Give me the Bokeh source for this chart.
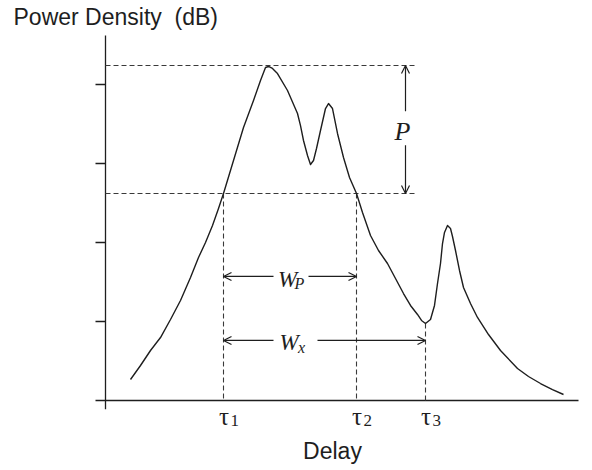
from bokeh.plotting import figure
from bokeh.models import Range1d, Arrow, OpenHead
from bokeh.core.properties import value
from bokeh.embed import file_html
from bokeh.resources import INLINE

# ---- data (delay in arbitrary units, power density in dB) ----
delay = [2.5, 3.5, 4.5, 5.5, 6.5, 7.5, 8.5, 9.3, 10.0, 10.7, 11.3, 11.8, 12.8, 13.8,
         14.8, 15.5, 16.0, 16.3, 16.7, 17.2, 18.2, 19.2, 19.5, 19.8, 20.2, 20.5,
         20.8, 21.1, 21.5, 22.0, 22.3, 22.7, 23.2, 23.8, 24.4, 25.1, 25.7, 26.5,
         27.3, 28.2, 29.0, 29.8, 30.5, 31.2, 31.6, 32.0, 32.5, 32.9, 33.2, 33.5,
         33.7, 33.9, 34.2, 34.5, 34.7, 35.0, 35.4, 35.8, 36.5, 37.2, 38.3, 39.5,
         41.2, 42.3, 43.5, 44.7, 45.8]
power_db = [2.66, 4.43, 6.33, 7.97, 10.25, 12.66, 15.57, 18.1, 20.0, 22.15, 24.3,
            26.2, 30.38, 34.56, 37.97, 40.51, 42.15, 42.28, 42.03, 41.39, 39.24,
            36.33, 34.8, 32.91, 31.01, 29.87, 30.38, 31.9, 34.18, 36.96, 37.59,
            36.96, 33.8, 30.76, 28.23, 26.2, 23.8, 20.89, 18.99, 17.34, 15.44,
            13.54, 12.03, 10.89, 10.13, 9.75, 10.25, 12.03, 14.81, 17.34, 19.87,
            21.27, 22.15, 21.77, 20.76, 18.99, 16.46, 14.3, 12.28, 10.51, 8.35,
            6.33, 4.05, 3.04, 2.15, 1.39, 0.76]
y_ticks = [10, 20, 30, 40]
peak_db = 42.4
threshold_db = 26.2
taus = [11.8, 25.1, 32.0]
tau_sub = ["1", "2", "3"]
tau_level = [threshold_db, threshold_db, 9.75]

x_min, x_max = 0, 47.3
y_min, y_max = 0, 46.2

INK = "#1e1e1e"
DASH = "#3a3a3a"
TS = 1.08  # vertical correction for text placement

p = figure(width=588, height=466, x_range=Range1d(-10.5, 48.3),
           y_range=Range1d(-8.354, 50.633), output_backend="svg",
           toolbar_location=None, x_axis_type=None, y_axis_type=None,
           min_border=0, min_border_left=0, min_border_right=0,
           min_border_top=0, min_border_bottom=0)
p.grid.visible = False
p.outline_line_color = None
p.background_fill_color = "white"
p.border_fill_color = "white"

# axes
p.segment(x0=[x_min], y0=[y_min - 1.1], x1=[x_min], y1=[y_max],
          line_color=INK, line_width=1.3)
p.segment(x0=[x_min - 1.0], y0=[y_min], x1=[x_max], y1=[y_min],
          line_color=INK, line_width=1.3)
p.segment(x0=[x_min - 1.0] * len(y_ticks), y0=y_ticks,
          x1=[x_min] * len(y_ticks), y1=y_ticks, line_color=INK, line_width=1.3)

# dashed reference lines
p.segment(x0=[0, 0], y0=[peak_db, threshold_db], x1=[31.1, 31.1],
          y1=[peak_db, threshold_db], line_color=DASH, line_width=1.1,
          line_dash="5 3")
p.segment(x0=taus, y0=tau_level, x1=taus, y1=[0, 0, 0],
          line_color=DASH, line_width=1.1, line_dash="5 3")

# curve
p.line(delay, power_db, line_color=INK, line_width=1.4, line_join="round")

# arrows
def arr(x0, y0, x1, y1):
    p.add_layout(Arrow(x_start=x0, y_start=y0, x_end=x1, y_end=y1,
                       line_color=INK, line_width=1.2,
                       end=OpenHead(size=8, line_color=INK, line_width=1.2)))

p_x = 30.0
arr(p_x, 36.6, p_x, peak_db)
arr(p_x, 32.3, p_x, threshold_db)
wp_y = 15.7
arr(16.8, wp_y, taus[0], wp_y)
arr(20.3, wp_y, taus[1], wp_y)
wx_y = 7.6
arr(16.8, wx_y, taus[0], wx_y)
arr(21.2, wx_y, taus[2], wx_y)

serif = value("Liberation Serif")
sans = value("Liberation Sans")

# italic labels
p.text(x=[29.7], y=[33.0 + TS], text=["P"], text_font=serif, text_font_style="italic",
       text_font_size="26px", text_align="center", text_baseline="alphabetic",
       text_color=INK)
p.text(x=[18.2, 18.35], y=[14.3 + TS, 6.2 + TS], text=["W", "W"], text_font=serif,
       text_font_style="italic", text_font_size="23px", text_align="center",
       text_baseline="alphabetic", text_color=INK)
p.text(x=[18.9, 19.25], y=[13.7 + TS, 5.6 + TS], text=["P", "x"], text_font=serif,
       text_font_style="italic", text_font_size="16px", text_align="left",
       text_baseline="alphabetic", text_color=INK)

# tau labels
p.text(x=[t + 0.05 for t in taus], y=[-3.05 + TS] * 3, text=["τ"] * 3, text_font=serif,
       text_font_size="25px", text_align="center", text_baseline="alphabetic",
       text_color=INK)
p.text(x=[t + 0.7 for t in taus], y=[-3.55 + TS] * 3, text=tau_sub, text_font=serif,
       text_font_size="17px", text_align="left", text_baseline="alphabetic",
       text_color=INK)

# axis titles
p.text(x=[22.7], y=[-7.5 + TS], text=["Delay"], text_font=sans, text_font_size="23px",
       text_align="center", text_baseline="alphabetic", text_color=INK)
p.text(x=[-9.2], y=[47.5 + TS], text=["Power Density\u00a0 (dB)"], text_font=sans,
       text_font_size="23px", text_align="left", text_baseline="alphabetic",
       text_color=INK)

open("out.html", "w").write(file_html(p, INLINE))
